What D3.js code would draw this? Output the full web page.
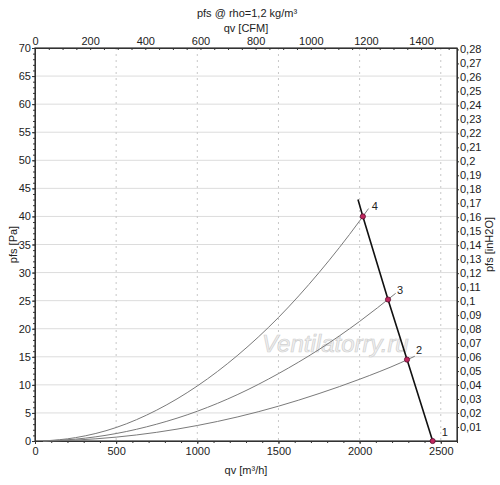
<!DOCTYPE html>
<html>
<head>
<meta charset="utf-8">
<script src="https://cdn.jsdelivr.net/npm/d3@7"></script>
<style>
  body { margin: 0; background: #fff; }
  svg text { font-family: "Liberation Sans", Arial, sans-serif; font-size: 11px; fill: #222; }
</style>
</head>
<body>
<svg id="chart" width="500" height="485"></svg>
<script>
// fan curve (qv m3/h, pfs Pa)
const fanQv = [1990, 2020, 2175, 2292, 2450];
const fanPfs = [43, 40, 25.2, 14.5, 0];

// system curves
const sysQv4 = [50, 250, 500, 750, 1000, 1250, 1500, 1750, 2000, 2055];
const sysPfs4 = [0, 0.6, 2.4, 5.5, 9.8, 15.3, 22, 30, 39.2, 41.4];
const sysQv3 = [50, 250, 500, 750, 1000, 1250, 1500, 1750, 2000, 2222];
const sysPfs3 = [0, 0.33, 1.33, 3.0, 5.3, 8.3, 12, 16.3, 21.3, 26.3];
const sysQv2 = [50, 250, 500, 750, 1000, 1250, 1500, 1750, 2000, 2250, 2340];
const sysPfs2 = [0, 0.17, 0.69, 1.55, 2.76, 4.3, 6.2, 8.45, 11.0, 13.9, 15.1];

// operating points
const pointQv = [2450, 2292, 2175, 2020];
const pointPfs = [0, 14.5, 25.2, 40];
const pointLabels = ["1", "2", "3", "4"];

const qvTicks = [0, 500, 1000, 1500, 2000, 2500];
const cfmTicks = [0, 200, 400, 600, 800, 1000, 1200, 1400];
const pfsTicks = [0, 5, 10, 15, 20, 25, 30, 35, 40, 45, 50, 55, 60, 65, 70];
const inTicks = [0.01, 0.02, 0.03, 0.04, 0.05, 0.06, 0.07, 0.08, 0.09, 0.1, 0.11, 0.12, 0.13, 0.14,
  0.15, 0.16, 0.17, 0.18, 0.19, 0.2, 0.21, 0.22, 0.23, 0.24, 0.25, 0.26, 0.27, 0.28];

const M3H_PER_CFM = 1.699011;
const PA_PER_INH2O = 249.0889;

const pLeft = 35, pRight = 457, pTop = 48, pBottom = 441;
const svg = d3.select("#chart");

const x = d3.scaleLinear().domain([0, 2600]).range([pLeft, pRight]);
const xCfm = d3.scaleLinear().domain([0, 2600 / M3H_PER_CFM]).range([pLeft, pRight]);
const y = d3.scaleLinear().domain([0, 70]).range([pBottom, pTop]);
const yIn = d3.scaleLinear().domain([0, 70 / PA_PER_INH2O]).range([pBottom, pTop]);

const comma = d => String(d).replace(".", ",");
const plain = d3.format("d");

// grid
svg.append("g").selectAll("line").data(pfsTicks.slice(1, -1)).join("line")
  .attr("x1", pLeft).attr("x2", pRight)
  .attr("y1", d => y(d)).attr("y2", d => y(d))
  .attr("stroke", "#dcdcdc").attr("stroke-width", 1);
svg.append("g").selectAll("line").data(qvTicks.slice(1)).join("line")
  .attr("x1", d => x(d)).attr("x2", d => x(d))
  .attr("y1", pTop).attr("y2", pBottom)
  .attr("stroke", "#c8c8c8").attr("stroke-dasharray", "2,4");

// watermark
svg.append("text").attr("x", 262).attr("y", 352)
  .style("font-family", "'Liberation Sans', Arial, sans-serif").style("font-style", "italic")
  .style("font-size", "24px").style("fill", "#f0f0f0")
  .style("stroke", "#d0d0d0").style("stroke-width", 0.7).text("Ventilatorry.ru");

// axes
const axes = svg.append("g");
function addAxis(axis, tx, ty) {
  const g = axes.append("g").attr("transform", `translate(${tx},${ty})`).call(axis);
  g.select(".domain").attr("stroke", "#333");
  g.selectAll(".tick line").attr("stroke", "#333");
  g.selectAll(".tick text").style("fill", "#222").style("font-size", "11px");
  return g;
}
addAxis(d3.axisBottom(x).tickValues(qvTicks).tickSize(3).tickSizeOuter(0).tickPadding(3).tickFormat(plain), 0, pBottom);
addAxis(d3.axisBottom(x).tickValues(d3.range(0, 2601, 100)).tickSize(2).tickFormat("").tickSizeOuter(0), 0, pBottom);
addAxis(d3.axisTop(xCfm).tickValues(cfmTicks).tickSize(0).tickSizeOuter(0).tickPadding(3).tickFormat(plain), 0, pTop);
addAxis(d3.axisTop(xCfm).tickValues(d3.range(0, 1530, 50)).tickSize(-2).tickFormat("").tickSizeOuter(0), 0, pTop);
addAxis(d3.axisLeft(y).tickValues(pfsTicks).tickSize(3).tickSizeOuter(0).tickPadding(1), pLeft, 0);
addAxis(d3.axisLeft(y).tickValues(d3.range(0, 71, 1)).tickSize(2).tickFormat("").tickSizeOuter(0), pLeft, 0);
addAxis(d3.axisRight(yIn).tickValues(inTicks).tickSize(2).tickSizeOuter(0).tickPadding(1).tickFormat(comma), pRight, 0);
addAxis(d3.axisRight(yIn).tickValues(d3.range(0.005, 0.281, 0.005)).tickSize(1).tickFormat("").tickSizeOuter(0), pRight, 0);

// frame
svg.append("rect").attr("x", pLeft).attr("y", pTop).attr("width", pRight - pLeft).attr("height", pBottom - pTop)
  .attr("fill", "none").attr("stroke", "#333").attr("stroke-width", 1.2);

// titles
svg.append("text").attr("x", 247).attr("y", 17).attr("text-anchor", "middle").text("pfs @ rho=1,2 kg/m³");
svg.append("text").attr("x", 246).attr("y", 32).attr("text-anchor", "middle").text("qv [CFM]");
svg.append("text").attr("x", 246).attr("y", 474).attr("text-anchor", "middle").text("qv [m³/h]");
svg.append("text").attr("transform", `translate(17,${(pTop + pBottom) / 2}) rotate(-90)`)
  .attr("text-anchor", "middle").text("pfs [Pa]");
svg.append("text").attr("transform", `translate(493,${(pTop + pBottom) / 2}) rotate(-90)`)
  .attr("text-anchor", "middle").text("pfs [inH2O]");

// curves
const line = d3.line().x(d => x(d[0])).y(d => y(d[1])).curve(d3.curveMonotoneX);
[[sysQv4, sysPfs4], [sysQv3, sysPfs3], [sysQv2, sysPfs2]].forEach(([qs, ps]) => {
  svg.append("path").datum(qs.map((q, i) => [q, ps[i]]))
    .attr("d", line).attr("fill", "none").attr("stroke", "#7a7a7a").attr("stroke-width", 1);
});
svg.append("path").datum(fanQv.map((q, i) => [q, fanPfs[i]]))
  .attr("d", d3.line().x(d => x(d[0])).y(d => y(d[1])))
  .attr("fill", "none").attr("stroke", "#111").attr("stroke-width", 1.6);

// points
svg.append("g").selectAll("circle").data(pointQv).join("circle")
  .attr("cx", d => x(d)).attr("cy", (d, i) => y(pointPfs[i])).attr("r", 2.6)
  .attr("fill", "#c0265e").attr("stroke", "#5a1030").attr("stroke-width", 0.8);
svg.append("g").selectAll("text").data(pointLabels).join("text")
  .attr("x", (d, i) => x(pointQv[i]) + 9).attr("y", (d, i) => y(pointPfs[i]) - (i === 0 ? 5 : 6))
  .style("font-size", "11px").text(d => d);
</script>
</body>
</html>
